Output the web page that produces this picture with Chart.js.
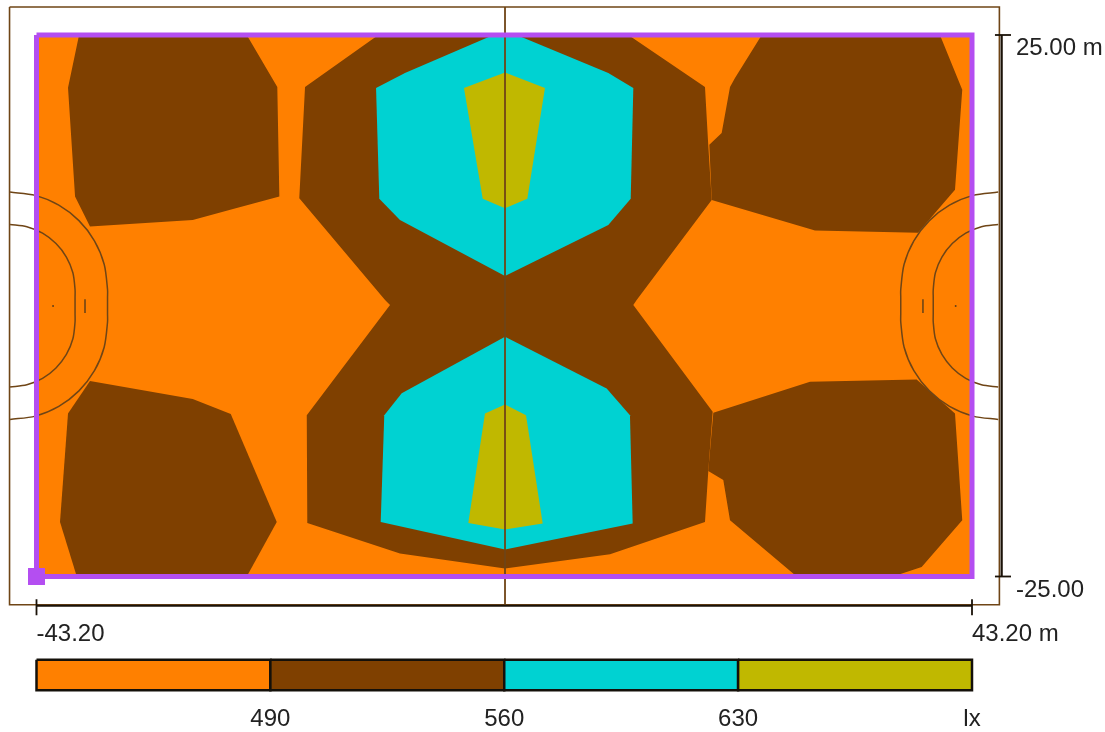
<!DOCTYPE html>
<html>
<head>
<meta charset="utf-8">
<style>html,body{margin:0;padding:0;background:#fff}canvas{display:block}</style>
<script src="https://cdn.jsdelivr.net/npm/chart.js@4/dist/chart.umd.min.js"></script>
</head>
<body>
<canvas id="c" width="1105" height="732" style="width:1105px;height:732px"></canvas>
<script>
const ORANGE='#ff8000', BROWN='#7f4000', CYAN='#00d2d2', OLIVE='#c0b800';
const PURPLE='#b44ef1', LINE='#6f4516', INK='#222222';

const xTickValues=[-43.2,43.2], xTickLabels=['-43.20','43.20 m'];
const yTickValues=[-25,25], yTickLabels=['-25.00','25.00 m'];
const legendEdges=[-43.2,-21.6,0,21.6,43.2];
const legendColours=[ORANGE,BROWN,CYAN,OLIVE];
const legendLabels=['490','560','630','lx'];
const legendLabelAt=[-21.6,0,21.6,43.2];
const legendBand=[-32.69,-35.51];
const legendMid=-34.1;
const legendLabelY=-38.2;

const areaOrange=[[-43.2,25],[43.2,25],[43.2,-25],[-43.2,-25]];
const brownTopLeft=[[-39.27,25],[-23.78,25],[-20.96,20.19],[-20.77,10.08],[-25.05,8.94],[-28.77,7.92],[-38.26,7.31],[-39.64,10.08],[-40.29,20.12]];
const brownBottomLeft=[[-38.26,-6.95],[-28.77,-8.62],[-25.26,-10],[-21.01,-19.96],[-23.78,-25],[-39.48,-25],[-41.03,-19.96],[-40.29,-9.94]];
const brownCentre=[[-11.63,25],[11.46,25],[18.54,20.19],[18.84,14.86],[19.16,9.77],[12.23,0.53],[11.92,0.07],[19.25,-9.79],[18.84,-15.34],[18.54,-19.96],[9.77,-22.94],[0.07,-24.26],[-9.63,-22.88],[-18.19,-20.05],[-18.24,-10.1],[-10.55,0.07],[-11.01,0.53],[-18.93,9.93],[-18.4,20.19]];
const brownTopRight=[[23.78,25],[40.24,25],[42.3,19.94],[41.63,10.7],[38.21,6.75],[28.7,6.94],[19.16,9.77],[18.94,14.86],[20.08,15.94],[20.85,20.19],[21.31,21.02]];
const brownBottomRight=[[19.31,-9.88],[28.24,-7.02],[38.09,-6.8],[41.63,-9.94],[42.3,-19.8],[38.55,-24.12],[35.9,-25],[27.01,-25],[20.85,-19.8],[20.23,-16.1],[18.84,-15.27]];
const cyanTop=[[-1.01,25],[1.15,25],[9.61,21.48],[11.92,20.1],[11.68,9.87],[9.61,7.46],[0.07,2.75],[-9.63,7.92],[-11.54,9.87],[-11.84,20.1],[-9.17,21.48]];
const oliveTop=[[0.07,21.54],[3.76,20.1],[2.13,9.87],[0.07,9.01],[-1.99,9.87],[-3.72,20.1]];
const cyanBottom=[[0.07,-2.86],[9.46,-7.63],[11.61,-10.1],[11.86,-20.11],[0.07,-22.51],[-11.41,-19.96],[-11.08,-10.1],[-9.47,-8.09]];
const oliveBottom=[[0.07,-9.11],[2.01,-10.1],[3.55,-20.11],[0.07,-20.66],[-3.32,-20.05],[-1.78,-9.94]];

const courtOutline=[[-45.69,27.58],[45.73,27.58],[45.73,-27.61],[-45.69,-27.61],[-45.69,27.58]];
const halfwayLine=[[0.07,27.58],[0.07,-27.61]];
const leftOuterArc=[[-45.64,10.5],[-43.31,10.19],[-41.14,9.29],[-39.28,7.86],[-37.85,6],[-36.95,3.83],[-36.64,1.5],[-36.64,0.75],[-36.64,-0.75],[-36.64,-1.5],[-36.95,-3.83],[-37.85,-6],[-39.28,-7.86],[-41.14,-9.29],[-43.31,-10.19],[-45.64,-10.5]];
const leftInnerArc=[[-45.64,7.5],[-44.09,7.3],[-42.64,6.7],[-41.4,5.74],[-40.44,4.5],[-39.84,3.05],[-39.64,1.5],[-39.64,0.75],[-39.64,-0.75],[-39.64,-1.5],[-39.84,-3.05],[-40.44,-4.5],[-41.4,-5.74],[-42.64,-6.7],[-44.09,-7.3],[-45.64,-7.5]];
const rightOuterArc=[[45.62,10.5],[43.29,10.19],[41.12,9.29],[39.26,7.86],[37.83,6],[36.93,3.83],[36.62,1.5],[36.62,0.75],[36.62,-0.75],[36.62,-1.5],[36.93,-3.83],[37.83,-6],[39.26,-7.86],[41.12,-9.29],[43.29,-10.19],[45.62,-10.5]];
const rightInnerArc=[[45.62,7.5],[44.07,7.3],[42.62,6.7],[41.38,5.74],[40.42,4.5],[39.82,3.05],[39.62,1.5],[39.62,0.75],[39.62,-0.75],[39.62,-1.5],[39.82,-3.05],[40.42,-4.5],[41.38,-5.74],[42.62,-6.7],[44.07,-7.3],[45.62,-7.5]];
const leftDash=[[-38.72,0.6],[-38.72,-0.67]];
const rightDash=[[38.67,0.6],[38.67,-0.67]];
const leftDot=[[-41.67,0.06],[-41.67,-0.12]];
const rightDot=[[41.69,0.06],[41.69,-0.12]];

const calcBorder=[[-43.2,25],[43.2,25],[43.2,-25],[-43.2,-25],[-43.2,25]];
const calcOrigin=[[-43.2,-25]];
const xRule=[[-43.2,-27.7],[43.2,-27.7]];
const xRuleTickL=[[-43.2,-27.1],[-43.2,-28.58]];
const xRuleTickR=[[43.2,-27.1],[43.2,-28.58]];
const yRule=[[45.94,25],[45.94,-25]];
const yRuleTickT=[[45.32,25],[46.8,25]];
const yRuleTickB=[[45.32,-25],[46.8,-25]];

const pts=a=>a.map(p=>({x:p[0],y:p[1]}));
const poly=(a,c)=>({data:pts(a),fill:'shape',backgroundColor:c,borderColor:'transparent',borderWidth:0,showLine:true,pointRadius:0,clip:false});
const stroke=(a,c,w)=>({data:pts(a),fill:false,borderColor:c,borderWidth:w,showLine:true,pointRadius:0,tension:0,clip:false,borderCapStyle:'butt',borderJoinStyle:'miter'});
const curve=(a,c,w)=>Object.assign(stroke(a,c,w),{tension:0.3,capBezierPoints:false});

const layers=[
  poly(areaOrange,ORANGE),
  poly(brownTopLeft,BROWN),poly(brownBottomLeft,BROWN),poly(brownCentre,BROWN),poly(brownTopRight,BROWN),poly(brownBottomRight,BROWN),
  poly(cyanTop,CYAN),poly(oliveTop,OLIVE),poly(cyanBottom,CYAN),poly(oliveBottom,OLIVE),
  stroke(courtOutline,LINE,1.6),stroke(halfwayLine,LINE,1.8),
  curve(leftOuterArc,LINE,1.5),curve(leftInnerArc,LINE,1.5),curve(rightOuterArc,LINE,1.5),curve(rightInnerArc,LINE,1.5),
  stroke(leftDash,LINE,1.6),stroke(rightDash,LINE,1.6),stroke(leftDot,LINE,1.6),stroke(rightDot,LINE,1.6),
  stroke(calcBorder,PURPLE,5),
  {data:pts(calcOrigin),showLine:false,pointStyle:'rect',pointRadius:12,pointBackgroundColor:PURPLE,pointBorderWidth:0,clip:false},
  stroke(xRule,'#1a1208',2.2),stroke(xRuleTickL,'#1a1208',1.8),stroke(xRuleTickR,'#1a1208',1.8),
  stroke(yRule,'#1a1208',2.2),stroke(yRuleTickT,'#1a1208',1.8),stroke(yRuleTickB,'#1a1208',1.8)
];
legendColours.forEach((c,i)=>{
  const [t,b]=legendBand,l=legendEdges[i],r=legendEdges[i+1];
  layers.push(stroke([[l,legendMid],[r,legendMid]],c,30));
  layers.push(stroke([[l,t],[r,t],[r,b],[l,b],[l,t]],'#14100a',2.5));
});
layers.forEach((d,i)=>{d.order=layers.length-i;});

const FONT={family:'"Liberation Sans", Arial, sans-serif',size:24};
const legendText={id:'legendText',afterDraw(ch){
  const {ctx,scales:{x,y}}=ch;
  ctx.save();
  ctx.font=FONT.size+'px '+FONT.family;
  ctx.fillStyle=INK;ctx.textAlign='center';ctx.textBaseline='middle';
  legendLabels.forEach((t,i)=>ctx.fillText(t,x.getPixelForValue(legendLabelAt[i]),y.getPixelForValue(legendLabelY)));
  ctx.restore();
}};
const noScalePadding=s=>{s.paddingLeft=0;s.paddingRight=0;s.paddingTop=0;s.paddingBottom=0;};

new Chart(document.getElementById('c'),{
  type:'scatter',
  data:{datasets:layers},
  plugins:[legendText],
  options:{
    responsive:false,animation:false,devicePixelRatio:1,
    layout:{autoPadding:false,padding:{left:36.5,top:35,right:0,bottom:0}},
    plugins:{legend:{display:false},tooltip:{enabled:false},title:{display:false}},
    scales:{
      x:{type:'linear',min:-43.2,max:43.2,position:'bottom',
        grid:{display:false,drawTicks:false},border:{display:false},
        afterBuildTicks(s){s.ticks=xTickValues.map(v=>({value:v}));},
        afterFit(s){s.height=155.5;noScalePadding(s);},
        ticks:{align:'start',padding:43,color:INK,font:FONT,maxRotation:0,autoSkip:false,callback:(v,i)=>xTickLabels[i]}},
      y:{type:'linear',min:-25,max:25,position:'right',
        grid:{display:false,drawTicks:false},border:{display:false},
        afterBuildTicks(s){s.ticks=yTickValues.map(v=>({value:v}));},
        afterFit(s){s.width=133;noScalePadding(s);},
        ticks:{padding:44,labelOffset:13.5,color:INK,font:FONT,autoSkip:false,callback:(v,i)=>yTickLabels[i]}}
    }
  }
});
</script>
</body>
</html>
